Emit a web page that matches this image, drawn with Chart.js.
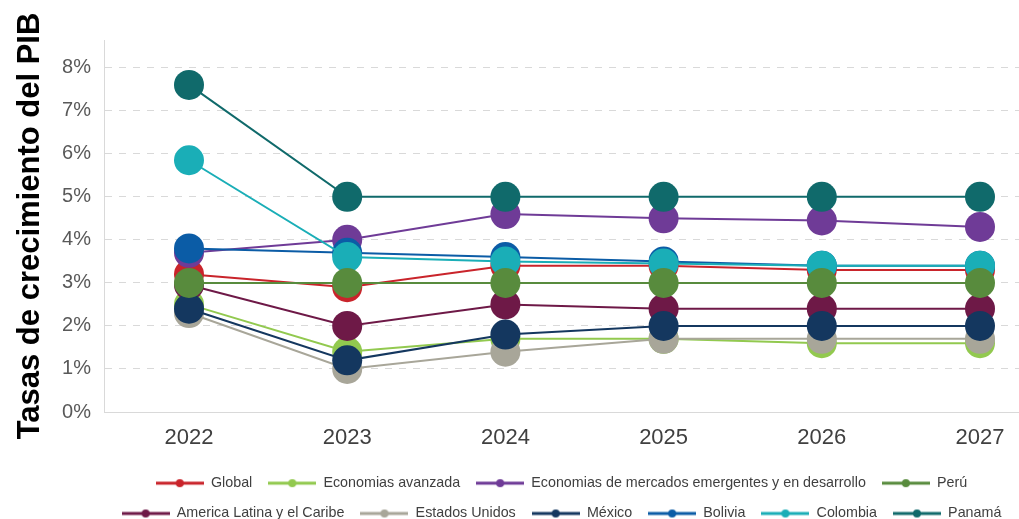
<!DOCTYPE html>
<html>
<head>
<meta charset="utf-8">
<script src="https://cdn.jsdelivr.net/npm/chart.js@4"></script>
<style>
  html, body { margin: 0; padding: 0; background: #fff; }
  #wrap { width: 1019px; height: 519px; }
</style>
</head>
<body>
<div id="wrap"><canvas id="pibChart"></canvas></div>
<script>
// TASAS DE CRECIMIENTO DEL PIB

const years = [2022, 2023, 2024, 2025, 2026, 2027];
const yTicks = [0, 1, 2, 3, 4, 5, 6, 7, 8];

const names = [
  "Global",
  "Economias avanzada",
  "Economias de mercados emergentes y en desarrollo",
  "Perú",
  "America Latina y el Caribe",
  "Estados Unidos",
  "México",
  "Bolivia",
  "Colombia",
  "Panamá",
];

const global = [3.2, 2.9, 3.4, 3.4, 3.3, 3.3];
const avanzadas = [2.5, 1.4, 1.7, 1.7, 1.6, 1.6];
const emergentes = [3.7, 4.0, 4.6, 4.5, 4.45, 4.3];
const peru = [3.0, 3.0, 3.0, 3.0, 3.0, 3.0];
const americaLatina = [2.95, 2.0, 2.5, 2.4, 2.4, 2.4];
const estadosUnidos = [2.3, 1.0, 1.4, 1.7, 1.7, 1.7];
const mexico = [2.4, 1.2, 1.8, 2.0, 2.0, 2.0];
const bolivia = [3.8, 3.7, 3.6, 3.5, 3.4, 3.4];
const colombia = [5.85, 3.6, 3.5, 3.45, 3.4, 3.4];
const panama = [7.6, 5.0, 5.0, 5.0, 5.0, 5.0];

const series = [global, avanzadas, emergentes, peru, americaLatina,
  estadosUnidos, mexico, bolivia, colombia, panama];

const colors = ["#c9242b", "#92c94f", "#6f3b97", "#588b3d", "#6e1947",
  "#a8a699", "#14375f", "#0b5ca6", "#1aaeb7", "#106a6b"];

// little line + dot icon for the legend
function legendIcon(color) {
  const c = document.createElement("canvas");
  c.width = 48;
  c.height = 10;
  const g = c.getContext("2d");
  g.strokeStyle = color;
  g.lineWidth = 3;
  g.beginPath();
  g.moveTo(0, 5);
  g.lineTo(48, 5);
  g.stroke();
  g.fillStyle = color;
  g.beginPath();
  g.arc(24, 5, 4, 0, Math.PI * 2);
  g.fill();
  return c;
}

const datasets = series.map((values, i) => ({
  label: names[i],
  data: years.map((x, j) => ({ x: x, y: values[j] })),
  borderColor: colors[i],
  backgroundColor: colors[i],
  pointBackgroundColor: colors[i],
  pointBorderColor: colors[i],
  borderWidth: 2,
  pointRadius: 15,
  pointBorderWidth: 0,
  // Perú sits on top of the others
  order: names[i] === "Perú" ? -100 : 20 - i,
}));

// centre the legend under the plot area instead of the whole canvas
const legendShift = {
  id: "legendShift",
  afterLayout(chart) {
    chart.legend.left = chart.chartArea.left;
    chart.legend.right = chart.chartArea.right;
  },
};

const ctx = document.getElementById("pibChart");

new Chart(ctx, {
  type: "line",
  data: { datasets: datasets },
  plugins: [legendShift],
  options: {
    responsive: true,
    maintainAspectRatio: false,
    animation: false,
    events: [],
    layout: { autoPadding: false, padding: { top: 40, left: 0, right: 0, bottom: 0 } },
    scales: {
      x: {
        type: "linear",
        min: 2022 - 85 / 158.2,
        max: 2027 + 39 / 158.2,
        afterBuildTicks: (axis) => {
          axis.ticks = years.map((v) => ({ value: v }));
        },
        afterFit: (axis) => {
          axis.height = 48;
          axis.paddingLeft = 0;
          axis.paddingRight = 0;
        },
        grid: { display: false, drawTicks: false },
        border: { display: true, color: "#d9d9d9", width: 1 },
        ticks: {
          padding: 13,
          color: "#404040",
          font: { family: "Liberation Sans, Arial", size: 22 },
          callback: (v) => String(v),
        },
      },
      y: {
        min: 0,
        max: 8 + 27.7 / 43,
        afterBuildTicks: (axis) => {
          axis.ticks = yTicks.map((v) => ({ value: v }));
        },
        afterFit: (axis) => {
          axis.width = 104;
        },
        grid: { color: "#d9d9d9", drawTicks: false, lineWidth: 1 },
        border: { display: true, color: "#d9d9d9", width: 1, dash: [7, 7] },
        ticks: {
          padding: 13,
          color: "#595959",
          font: { family: "Liberation Sans, Arial", size: 20 },
          callback: (v) => v + "%",
        },
        title: {
          display: true,
          text: "Tasas de crecimiento del PIB",
          color: "#000",
          font: { family: "Liberation Sans, Arial", size: 31, weight: "bold" },
          padding: { top: 12, bottom: 0 },
        },
      },
    },
    plugins: {
      legend: {
        position: "bottom",
        maxHeight: 59,
        labels: {
          usePointStyle: true,
          pointStyleWidth: 48,
          padding: 16,
          color: "#404040",
          font: { family: "Liberation Sans, Arial", size: 14.3 },
          sort: (a, b) => a.datasetIndex - b.datasetIndex,
          generateLabels: (chart) => {
            const items = Chart.defaults.plugins.legend.labels.generateLabels(chart);
            items.forEach((it) => {
              it.pointStyle = legendIcon(colors[it.datasetIndex]);
            });
            return items;
          },
        },
      },
      tooltip: { enabled: false },
    },
  },
});
</script>
</body>
</html>
